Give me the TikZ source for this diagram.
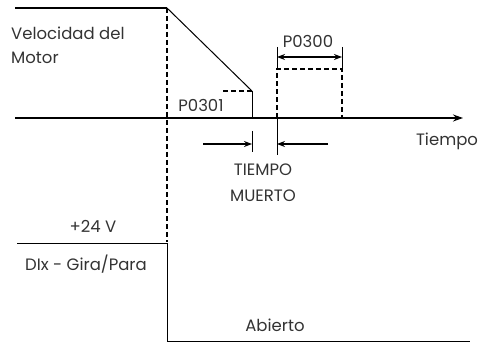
\documentclass[tikz,border=0pt]{standalone}
\usepackage{fontspec}
\setmainfont{Poppins}
\usetikzlibrary{arrows.meta}
\begin{document}
\begin{tikzpicture}[x=1pt,y=-1pt,
  lbl/.style={font=\fontsize{16.5}{24}\selectfont, text=black!80, inner sep=0pt},
  solidln/.style={line width=1.5pt},
  thinln/.style={line width=1pt},
  dsh/.style={line width=1.5pt, dash pattern=on 5pt off 3pt},
  arr/.style={-{Stealth[length=8pt,width=6pt]}, line width=1.5pt}]
\useasboundingbox (0,0) rectangle (480,345);
% coordinates
\coordinate (sp0) at (15,8);
\coordinate (sp1) at (167,8);
\coordinate (rampEnd) at (252,91);
\coordinate (rampFoot) at (252,118);
\coordinate (p301L) at (223,91);
\coordinate (ax0) at (15,118);
\coordinate (ax1) at (463,118);
\coordinate (dvBot) at (167,242);
\coordinate (bxTL) at (277,69);
\coordinate (bxTR) at (342,69);
\coordinate (bxBL) at (277,118);
\coordinate (bxBR) at (342,118);
\coordinate (tkL) at (277,47);
\coordinate (tkR) at (342,47);
\coordinate (dimL) at (277,57);
\coordinate (dimR) at (342,57);
\coordinate (tmL) at (277,155);
\coordinate (tk2a) at (252,131);
\coordinate (tk2b) at (252,152);
\coordinate (aL0) at (203,144);
\coordinate (aL1) at (252,144);
\coordinate (aR0) at (328,144);
\coordinate (aR1) at (277,144);
\coordinate (di0) at (17,243);
\coordinate (di1) at (167,243);
\coordinate (di2) at (167,341);
\coordinate (di3) at (470,341);
% speed curve
\draw[solidln] (sp0) -- (sp1);
\draw[thinln] (sp1) -- (rampEnd);
\draw[thinln] (rampEnd) -- (rampFoot);
\draw[dsh] (p301L) -- (rampEnd);
\draw[dsh] (sp1) -- (dvBot);
% axis
\draw[line width=2pt,-{Stealth[length=10pt,width=7pt]}] (ax0) -- (ax1);
% P0300 box
\draw[dsh] (bxBL) -- (bxTL) -- (bxTR) -- (bxBR);
\draw[thinln] (tkL) -- (bxTL);
\draw[thinln] (tkR) -- (bxTR);
\draw[thinln] (bxBL) -- (tmL);
\draw[{Stealth[length=8pt,width=6pt]}-{Stealth[length=8pt,width=6pt]}, line width=1.5pt] (dimL) -- (dimR);
% dead time
\draw[thinln] (tk2a) -- (tk2b);
\draw[arr] (aL0) -- (aL1);
\draw[arr] (aR0) -- (aR1);
% DI signal
\draw[thinln] (di0) -- (di1);
\draw[thinln] (di1) -- (di2) -- (di3);
% labels
\node[lbl, anchor=west, align=left] (vel) at (11,45) {Velocidad del\\Motor};
\node[lbl] (p301) at (201,105) {P0301};
\node[lbl] (p300) at (308,41) {P0300};
\node[lbl] (tiempo) at (447,141) {Tiempo};
\node[lbl] (tm1) at (263,170) {TIEMPO};
\node[lbl] (tm2) at (263,196) {MUERTO};
\node[lbl] (v24) at (93,226) {+24 V};
\node[lbl] (dix) at (86,264) {DIx - Gira/Para};
\node[lbl] (abi) at (275,325) {Abierto};
\end{tikzpicture}
\end{document}
